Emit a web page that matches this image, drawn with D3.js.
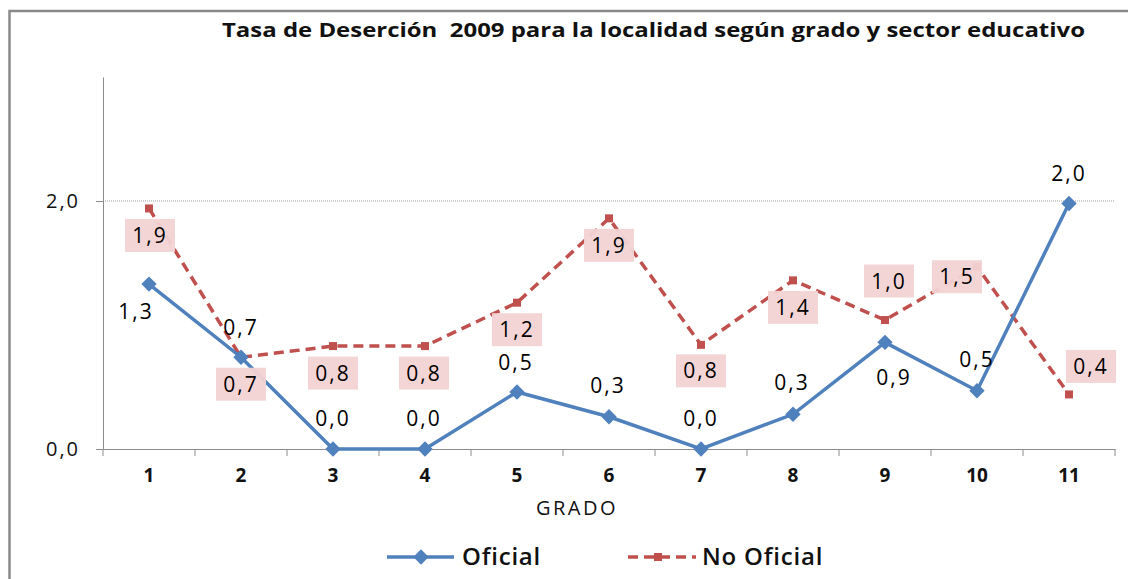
<!DOCTYPE html>
<html>
<head>
<meta charset="utf-8">
<script src="https://cdn.jsdelivr.net/npm/d3@7"></script>
<style>
  body { margin: 0; background: #fff; }
  svg { display: block; font-family: "Open Sans", "DejaVu Sans", sans-serif; }
</style>
</head>
<body>
<svg id="chart" width="1128" height="579"></svg>
<script>
// data
const grades = ['1', '2', '3', '4', '5', '6', '7', '8', '9', '10', '11'];
const oficial = [1.33, 0.74, 0, 0, 0.46, 0.26, 0, 0.28, 0.86, 0.47, 1.98];
const noOficial = [1.94, 0.74, 0.83, 0.83, 1.18, 1.86, 0.84, 1.36, 1.04, 1.47, 0.44];
const yTicks = [0, 2];

// label placement (dx, dy from the point), like the hand-placed excel labels
const oficialOffsets = [[-13, 27], [0, -30], [0, -31], [-1, -31], [-1, -30], [-1, -31],
  [0, -31], [-1, -32], [9, 35], [0, -31], [0, -30]];
const noOficialOffsets = [[1, 27], [0, 27], [0, 27], [-1, 27], [0, 27], [0, 27],
  [0, 26], [0, 27], [4, -39], [-20, 10], [22, -28]];

const blue = '#4F81BD';
const red = '#C0504D';
const axisGrey = '#8c8c8c';
const fmt = v => v.toFixed(1).replace('.', ',');

const svg = d3.select('#chart');
const margin = { top: 77, left: 103, right: 13, bottom: 130 };
const width = 1128 - margin.left - margin.right;
const height = 579 - margin.top - margin.bottom;

// outer frame (only left/top edges visible in the crop)
svg.append('rect')
  .attr('x', 9.5).attr('y', 11)
  .attr('width', 1140).attr('height', 600)
  .attr('fill', 'none')
  .attr('stroke', '#8a8a8a')
  .attr('stroke-width', 2.5);

svg.append('text')
  .attr('x', 222).attr('y', 37)
  .attr('textLength', 863)
  .attr('lengthAdjust', 'spacingAndGlyphs')
  .attr('font-size', 20)
  .attr('font-weight', 'bold')
  .attr('fill', '#111')
  .style('white-space', 'pre')
  .text('Tasa de Deserción  2009 para la localidad según grado y sector educativo');

const g = svg.append('g')
  .attr('transform', `translate(${margin.left},${margin.top})`);

const x = d3.scaleBand().domain(grades).range([0, width]).padding(0);
const y = d3.scaleLinear().domain([0, 3]).range([height, 0]);
const cx = d => x(d) + x.bandwidth() / 2;

// dotted gridline at 2,0
g.selectAll('.grid')
  .data(yTicks.filter(t => t > 0))
  .join('line')
    .attr('class', 'grid')
    .attr('x1', 0).attr('x2', width)
    .attr('y1', d => y(d)).attr('y2', d => y(d))
    .attr('stroke', '#a0a0a0')
    .attr('stroke-dasharray', '1,1');

// y axis
const yAxis = g.append('g')
  .call(d3.axisLeft(y).tickValues(yTicks).tickFormat(fmt).tickSize(7).tickSizeOuter(0).tickPadding(16));
yAxis.select('.domain').attr('stroke', axisGrey);
yAxis.selectAll('line').attr('stroke', axisGrey);
yAxis.selectAll('text')
  .attr('font-size', 20)
  .attr('fill', '#111')
  .attr('font-family', '"Open Sans", sans-serif')
  .attr('letter-spacing', 2);

// x axis: labels centred in bands, ticks on band edges
const xAxis = g.append('g')
  .attr('transform', `translate(0,${height})`)
  .call(d3.axisBottom(x).tickSize(0).tickPadding(20).tickSizeOuter(0));
xAxis.select('.domain').attr('stroke', axisGrey);
xAxis.selectAll('text')
  .attr('font-size', 19)
  .attr('font-weight', 'bold')
  .attr('fill', '#111')
  .attr('font-family', '"Open Sans", sans-serif');
const edges = grades.map(d => x(d)).concat([width]);
xAxis.selectAll('.edge')
  .data(edges)
  .join('line')
    .attr('class', 'edge')
    .attr('x1', d => d).attr('x2', d => d)
    .attr('y1', 0).attr('y2', 7)
    .attr('stroke', axisGrey);

g.append('text')
  .attr('x', width / 2 - 32).attr('y', height + 66)
  .attr('text-anchor', 'middle')
  .attr('font-size', 20)
  .attr('letter-spacing', 2.5)
  .attr('fill', '#111')
  .text('GRADO');

const line = d3.line()
  .x((d, i) => cx(grades[i]))
  .y(d => y(d));

// No Oficial series
g.append('path')
  .datum(noOficial)
  .attr('d', line)
  .attr('fill', 'none')
  .attr('stroke', red)
  .attr('stroke-width', 3.5)
  .attr('stroke-dasharray', '10,6');

g.selectAll('.sq')
  .data(noOficial)
  .join('rect')
    .attr('class', 'sq')
    .attr('x', (d, i) => cx(grades[i]) - 4)
    .attr('y', d => y(d) - 4)
    .attr('width', 8).attr('height', 8)
    .attr('fill', red);

// Oficial series
g.append('path')
  .datum(oficial)
  .attr('d', line)
  .attr('fill', 'none')
  .attr('stroke', blue)
  .attr('stroke-width', 3.5);

const diamond = d3.symbol().type(d3.symbolDiamond2).size(150);
g.selectAll('.dm')
  .data(oficial)
  .join('path')
    .attr('class', 'dm')
    .attr('d', diamond)
    .attr('transform', (d, i) => `translate(${cx(grades[i])},${y(d)})`)
    .attr('fill', blue);

// labels for No Oficial (pink boxes)
const noLab = g.selectAll('.nolab')
  .data(noOficial)
  .join('g')
    .attr('class', 'nolab')
    .attr('transform', (d, i) => `translate(${cx(grades[i]) + noOficialOffsets[i][0]},${y(d) + noOficialOffsets[i][1]})`);
noLab.append('rect')
  .attr('x', -25).attr('y', -16.5)
  .attr('width', 50).attr('height', 33)
  .attr('fill', '#F2D3D4')
  .attr('fill-opacity', 0.95);
noLab.append('text')
  .attr('text-anchor', 'middle')
  .attr('dy', '0.36em')
  .attr('font-size', 21)
  .attr('letter-spacing', 2)
  .attr('fill', '#000')
  .text(d => fmt(d));

// labels for Oficial
g.selectAll('.oflab')
  .data(oficial)
  .join('text')
    .attr('class', 'oflab')
    .attr('x', (d, i) => cx(grades[i]) + oficialOffsets[i][0])
    .attr('y', (d, i) => y(d) + oficialOffsets[i][1])
    .attr('text-anchor', 'middle')
    .attr('dy', '0.36em')
    .attr('font-size', 21)
    .attr('letter-spacing', 2)
    .attr('fill', '#000')
    .text(d => fmt(d));

// legend
const legend = svg.append('g').attr('transform', 'translate(0,557)');
legend.append('line')
  .attr('x1', 387).attr('x2', 454)
  .attr('stroke', blue).attr('stroke-width', 3.5);
legend.append('path')
  .attr('d', diamond)
  .attr('transform', 'translate(421,0)')
  .attr('fill', blue);
legend.append('text')
  .attr('x', 462).attr('dy', '0.35em')
  .attr('font-size', 24).attr('font-weight', 600)
  .attr('letter-spacing', 0.8)
  .attr('fill', '#111')
  .text('Oficial');
legend.append('line')
  .attr('x1', 628).attr('x2', 696)
  .attr('stroke', red).attr('stroke-width', 3.5)
  .attr('stroke-dasharray', '10,6');
legend.append('rect')
  .attr('x', 654).attr('y', -4)
  .attr('width', 8).attr('height', 8)
  .attr('fill', red);
legend.append('text')
  .attr('x', 702).attr('dy', '0.35em')
  .attr('font-size', 24).attr('font-weight', 600)
  .attr('letter-spacing', 0.8)
  .attr('fill', '#111')
  .text('No Oficial');
</script>
</body>
</html>
